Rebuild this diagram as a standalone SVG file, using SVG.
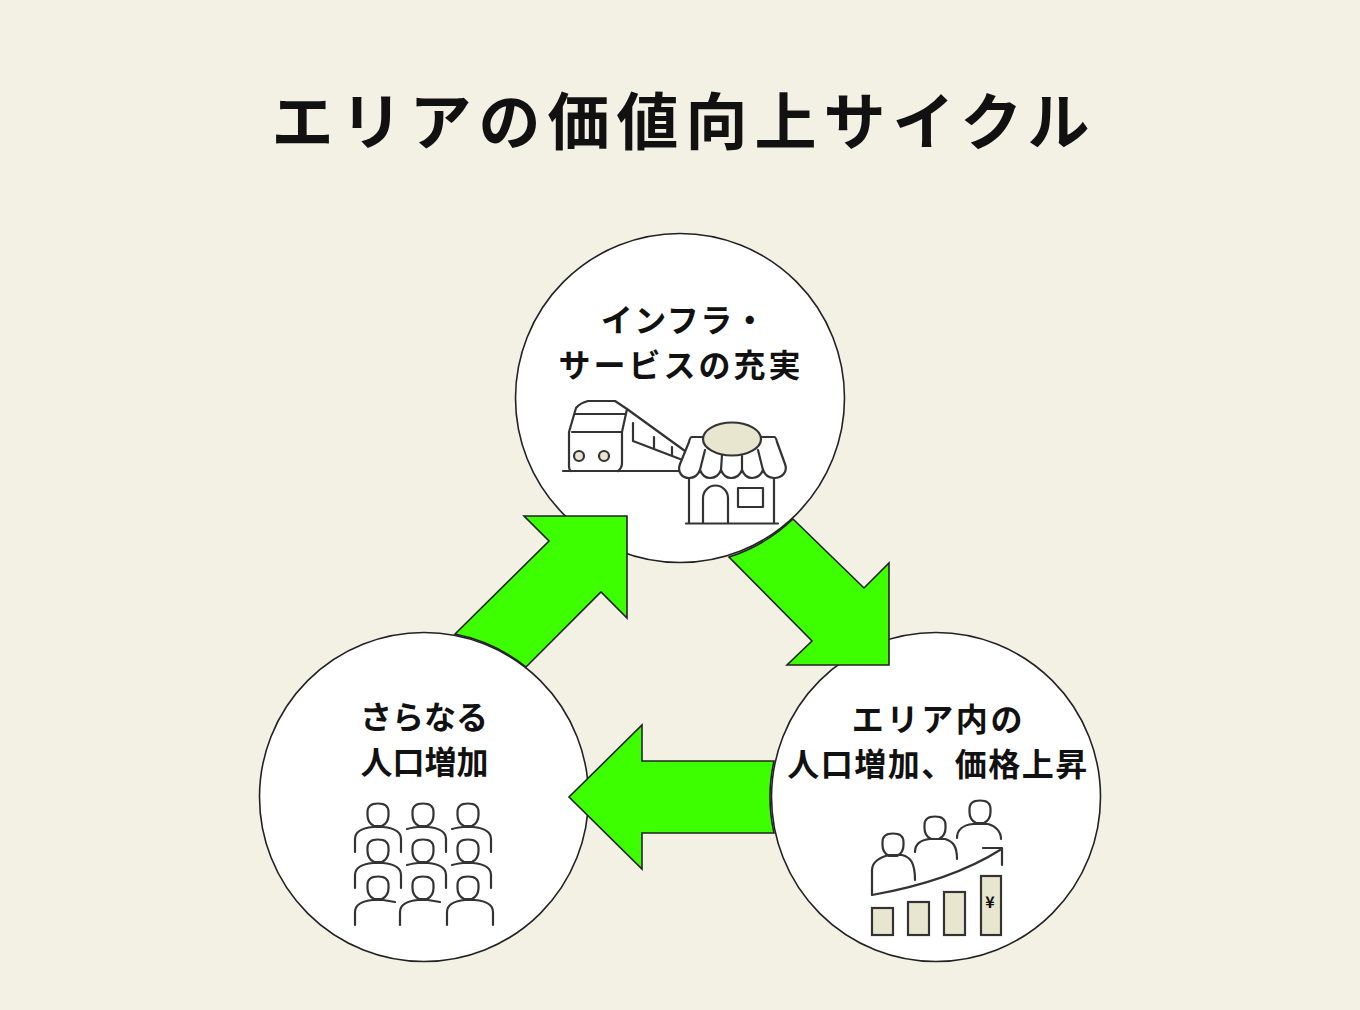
<svg xmlns="http://www.w3.org/2000/svg" xmlns:xlink="http://www.w3.org/1999/xlink" width="1360" height="1010" viewBox="0 0 1360 1010">
<style>
text{font-family:"Noto Sans CJK JP","Noto Sans CJK SC",sans-serif;fill:#111;text-anchor:middle}
.title{font-size:62px;font-weight:700;letter-spacing:7px}
.lab{font-size:32px;font-weight:700;letter-spacing:1.5px}
.node{fill:#fff;stroke:#222;stroke-width:1.6}
.arrow{fill:#3dff00;stroke:#222;stroke-width:1.6;stroke-linejoin:miter}
.ic{fill:none;stroke:#333;stroke-width:2.2;stroke-linecap:round;stroke-linejoin:round}
.icw{fill:#fff;stroke:#333;stroke-width:2.2;stroke-linejoin:round}
.icf{fill:#e9e6d0;stroke:#333;stroke-width:2.2}
</style>
<defs>
<path id="head" d="M-4,11 C-8,9 -10.5,5 -10.5,0 V-3 C-10.5,-9 -6,-11.5 0,-11.5 C6,-11.5 10.5,-9 10.5,-3 V0 C10.5,5 8,9 4,11 Z" class="ic"/>
<path id="bodyFull" d="M-23,37 V24 C-23,16 -15,13 -5,12 H5 C15,13 23,16 23,24 V37" class="ic"/>
<path id="bodyR" d="M-16,14 C-12,13 -8,12 -5,12 H5 C15,13 23,16 23,24 V37" class="ic"/>
<path id="bodyL" d="M-23,37 V24 C-23,16 -15,13 -5,12 H5 L17,14" class="ic"/>
</defs>
<rect width="1360" height="1010" fill="#f3f1e4"/>
<g id="title"><text class="title" x="684" y="145">エリアの価値向上サイクル</text></g>
<g id="node-infra">
<circle class="node" cx="680" cy="398" r="164.5"/>
<text class="lab" x="684" y="332">インフラ・</text>
<text class="lab" x="681" y="377" style="letter-spacing:3px">サービスの充実</text>
<path class="ic" d="M563,471 H680 M571,471 Q569,470 569,466 V432 L576,408 Q580,403 588,401 H615 L627,409 L622,432 V463 Q622,468 618,471 M575,414 H625 M572,432 H622 M627,409 L685,451 M633,423 V441 L680,459 M654,437 V449 M672,447 V455"/>
<circle class="icf" cx="579" cy="456" r="5"/>
<circle class="icf" cx="604" cy="456" r="5"/>
<path class="icw" d="M692,437 H774 Q776,437 777,442 L785,464 C788,472 782,478 774,478 C769,478 765,475 763,470 C761,475 757,478 752,478 C747,478 744,475 742,470 C740,475 736,478 731,478 C726,478 723,475 721,470 C719,475 715,478 710,478 C705,478 702,475 700,470 C698,475 694,478 689,478 C682,478 677,472 680,464 L689,442 Q690,437 692,437 Z"/>
<path class="ic" d="M705,450 L700,470 M722,455 L721,470 M742,456 V470 M758,450 L763,470"/>
<ellipse class="icf" cx="732" cy="439" rx="29" ry="16.5"/>
<path class="ic" d="M689,478 V523 M774,478 V523 M686,523.5 H778 M703,523 V498 A12.5,12.5 0 0 1 728,498 V523"/>
<rect class="ic" x="738" y="488" width="25" height="19"/>
</g>
<g id="node-population">
<circle class="node" cx="424" cy="797" r="164.5"/>
<text class="lab" x="424" y="729" style="letter-spacing:0">さらなる</text>
<text class="lab" x="424.500" y="774" style="letter-spacing:0">人口増加</text>
<use xlink:href="#head" x="378" y="815"/><use xlink:href="#head" x="423" y="815"/><use xlink:href="#head" x="468" y="815"/>
<use xlink:href="#bodyFull" x="378" y="815"/><use xlink:href="#bodyR" x="423" y="815"/><use xlink:href="#bodyR" x="468" y="815"/>
<use xlink:href="#head" x="378" y="851"/><use xlink:href="#head" x="423" y="851"/><use xlink:href="#head" x="468" y="851"/>
<use xlink:href="#bodyFull" x="378" y="851"/><use xlink:href="#bodyR" x="423" y="851"/><use xlink:href="#bodyR" x="468" y="851"/>
<use xlink:href="#head" x="378" y="888"/><use xlink:href="#head" x="423" y="888"/><use xlink:href="#head" x="468" y="888"/>
<use xlink:href="#bodyL" x="378" y="888"/><use xlink:href="#bodyL" x="423" y="888"/><use xlink:href="#bodyFull" x="470" y="888"/>
</g>
<g id="node-area">
<circle class="node" cx="936" cy="797" r="164.5"/>
<text class="lab" x="938.500" y="731" style="letter-spacing:2.700px">エリア内の</text>
<text class="lab" x="938" y="776">人口増加、価格上昇</text>
<use xlink:href="#head" x="893" y="845"/><use xlink:href="#head" x="935" y="828"/><use xlink:href="#head" x="980" y="812"/>
<path class="ic" d="M872,895 V870 C872,862 880,857 889,855 H902 C910,857 915,862 915,880 M915,852 C915,845 920,840 930,839 H945 C952,841 957,845 957,859 M957,838 C957,830 963,825 973,824 H988 C996,826 1001,832 1001,839 M872,895 Q951,881 1000,850 M983,848 H1002 V865"/>
<rect class="icf" x="872" y="908" width="21" height="27"/>
<rect class="icf" x="908" y="902" width="21" height="33"/>
<rect class="icf" x="944" y="892" width="21" height="43"/>
<rect class="icf" x="981" y="876" width="20" height="59"/>
<text x="990" y="908" style="font-size:16px;font-weight:700">¥</text>
</g>
<g id="connectors">
<path class="arrow" d="M793,519 L864,588 L889,563 V665 H787 L812,641 L729,557 A165,165 0 0 0 793,519 Z"/>
<path class="arrow" d="M774,761 H642 V725 L569,797 L642,869 V833 H774 A165,165 0 0 1 774,761 Z"/>
<path class="arrow" d="M455,634 L549,541 L524,516 H627 V618 L601,592 L526,667 A165,165 0 0 0 455,634 Z"/>
</g>
</svg>
